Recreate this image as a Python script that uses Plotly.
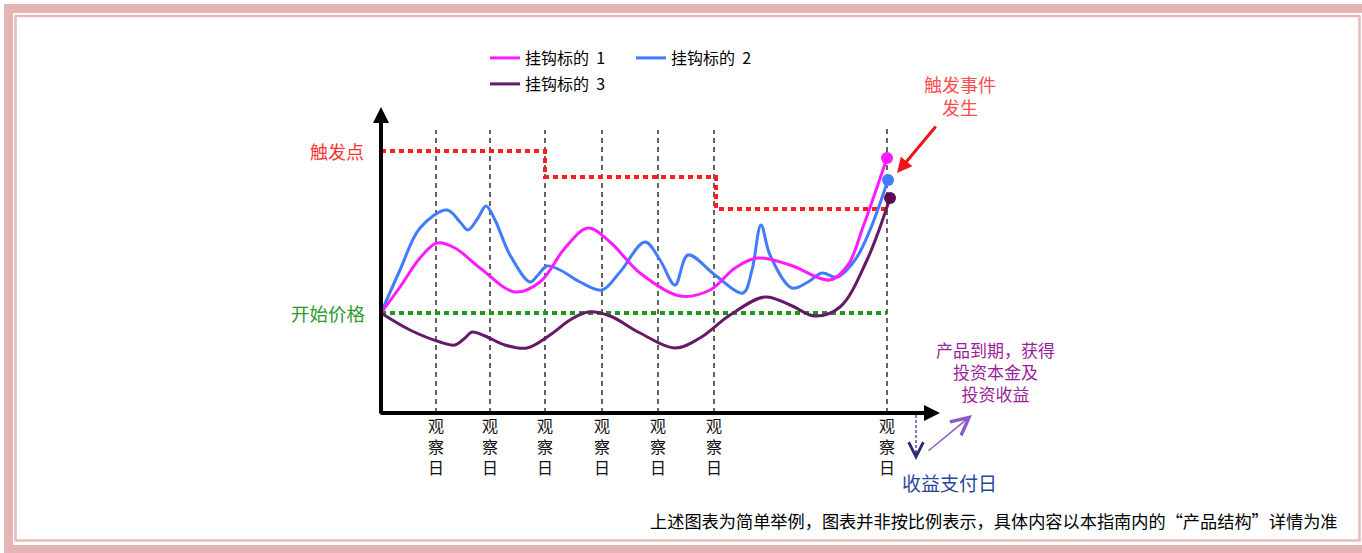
import plotly.graph_objects as go

# ---------------- data (schematic units: time offset, value relative to start price) -------------
series_names = ["挂钩标的  1", "挂钩标的  2", "挂钩标的  3"]
series_colors = ["#ff1aff", "#3f7cff", "#641a66"]
dot_colors = ["#ff1aff", "#3f7cff", "#5a0c4e"]

s1_x = [0, 19, 39, 56, 74, 99, 134, 159, 184, 207, 229, 259, 299, 329, 354, 376, 409, 449, 467, 482, 506]
s1_y = [0, 26, 55, 70, 65, 45, 21, 31, 65, 85, 71, 40, 17, 23, 45, 55, 48, 33, 48, 86, 155]

s2_x = [0, 19, 39, 66, 79, 87, 97, 105, 114, 129, 149, 157, 166, 179, 199, 221, 239, 264, 279, 294, 307,
        334, 362, 371, 380, 389, 411, 427, 441, 456, 474, 489, 507]
s2_y = [0, 43, 85, 103, 91, 83, 95, 107, 93, 58, 31, 38, 47, 43, 31, 23, 41, 71, 53, 28, 58,
        38, 20, 43, 88, 58, 25, 31, 40, 36, 53, 83, 133]

s3_x = [0, 29, 59, 74, 84, 91, 104, 124, 146, 169, 189, 207, 229, 259, 294, 319, 349, 384, 409, 434, 459, 486, 509]
s3_y = [0, -17, -29, -32, -25, -19, -23, -32, -35, -22, -7, 1, -3, -20, -35, -25, -2, 16, 8, -3, 6, 53, 115]

obs_x = [55, 109, 164, 221, 277, 333, 506]
obs_top = [183, 183, 183, 183, 183, 183, 188]
obs_label = "观<br>察<br>日"

trigger_x = [0, 164, 164, 335, 335, 506]
trigger_y = [162, 162, 136, 136, 104, 104]
start_x = [0, 506]
start_y = [0, 0]

# ---------------- layout helpers ----------------
FONT = "Noto Sans CJK SC, Noto Sans, sans-serif"
W, H = 1362, 553
OX, OY = 381, 313


def px(x):
    return x - OX


def py(y):
    return OY - y


fig = go.Figure()

# trigger level and start price
fig.add_trace(go.Scatter(x=trigger_x, y=trigger_y, mode="lines", showlegend=False, hoverinfo="skip",
                         line=dict(color="#ff1c1c", width=4, dash="5px,4px")))
fig.add_trace(go.Scatter(x=start_x, y=start_y, mode="lines", showlegend=False, hoverinfo="skip",
                         line=dict(color="#1c961c", width=4, dash="5px,4px")))

series = [(s1_x, s1_y), (s2_x, s2_y), (s3_x, s3_y)]
legends = ["legend", "legend", "legend2"]
for i in [2, 1, 0]:
    xs, ys = series[i]
    fig.add_trace(go.Scatter(x=xs, y=ys, mode="lines", name=series_names[i], legend=legends[i],
                             legendrank=i + 1,
                             line=dict(color=series_colors[i], width=3, shape="spline", smoothing=1.0)))
for i in [2, 1, 0]:
    xs, ys = series[i]
    fig.add_trace(go.Scatter(x=[xs[-1]], y=[ys[-1]], mode="markers", showlegend=False, hoverinfo="skip",
                             marker=dict(color=dot_colors[i], size=12)))

# observation day dashed lines
for x, top in zip(obs_x, obs_top):
    fig.add_shape(type="line", xref="x", yref="y", x0=x, x1=x, y0=py(413), y1=top, layer="below",
                  line=dict(color="#111111", width=1.3, dash="5px,4px"))
    fig.add_annotation(x=x, y=py(446), text=obs_label, showarrow=False, xanchor="center", yanchor="middle",
                       font=dict(size=16, family=FONT, color="#111111"))

# axes arrows
fig.add_annotation(x=0, y=py(107), ax=0, ay=py(415), axref="x", ayref="y", xref="x", yref="y", text="",
                   showarrow=True, arrowhead=2, arrowsize=0.8, arrowwidth=4, arrowcolor="#000000")
fig.add_annotation(x=px(940), y=py(413), ax=px(379), ay=py(413), axref="x", ayref="y", xref="x", yref="y",
                   text="", showarrow=True, arrowhead=2, arrowsize=0.8, arrowwidth=4, arrowcolor="#000000")

# red arrow to trigger event
fig.add_annotation(x=px(897), y=py(173), ax=px(937), ay=py(125), axref="x", ayref="y", xref="x", yref="y",
                   text="", showarrow=True, arrowhead=2, arrowsize=1, arrowwidth=3, arrowcolor="#f01414")
# purple arrow
fig.add_annotation(x=px(972), y=py(415), ax=px(927), ay=py(452), axref="x", ayref="y", xref="x", yref="y",
                   text="", showarrow=True, arrowhead=5, arrowsize=2.3, arrowwidth=1.5, arrowcolor="#8c5ac8")
# dashed navy arrow down
fig.add_shape(type="line", xref="x", yref="y", x0=px(916), x1=px(916), y0=py(415), y1=py(458),
              line=dict(color="#2b2b7a", width=1.2, dash="3px,2px"))
fig.add_annotation(x=px(916), y=py(460), ax=px(916), ay=py(450), axref="x", ayref="y", xref="x", yref="y",
                   text="", showarrow=True, arrowhead=5, arrowsize=2.4, arrowwidth=1.2, arrowcolor="#2b2b7a")

# texts
fig.add_annotation(x=px(366), y=py(151), text="触发点", showarrow=False, xanchor="right", yanchor="middle",
                   font=dict(size=18, family=FONT, color="#ff3333"))
fig.add_annotation(x=px(368), y=py(313), text="开始价格", showarrow=False, xanchor="right", yanchor="middle",
                   font=dict(size=18.5, family=FONT, color="#2d9a2d"))
fig.add_annotation(x=px(960), y=py(95), text="触发事件<br>发生", showarrow=False, xanchor="center",
                   yanchor="middle", font=dict(size=18, family=FONT, color="#ff4d4d"))
fig.add_annotation(x=px(995), y=py(371), text="产品到期，获得<br>投资本金及<br>投资收益", showarrow=False,
                   xanchor="center", yanchor="middle", font=dict(size=17, family=FONT, color="#9a1f9a"))
fig.add_annotation(x=px(949), y=py(482), text="收益支付日", showarrow=False, xanchor="center", yanchor="middle",
                   font=dict(size=19, family=FONT, color="#27479a"))
fig.add_annotation(x=px(1340), y=py(520), text="上述图表为简单举例，图表并非按比例表示，具体内容以本指南内的“产品结构”详情为准",
                   showarrow=False, xanchor="right", yanchor="middle",
                   font=dict(size=17.2, family=FONT, color="#000000"))

# frame
fig.add_shape(type="rect", xref="x", yref="y", x0=px(8.5), x1=px(1370), y0=py(8.5), y1=py(549.5),
              line=dict(color="#e4b5b5", width=9), fillcolor="rgba(0,0,0,0)")
fig.add_shape(type="rect", xref="x", yref="y", x0=px(15.5), x1=px(1359.5), y0=py(16), y1=py(540.5),
              line=dict(color="#e8baba", width=2.5), fillcolor="rgba(0,0,0,0)")

legend_common = dict(orientation="h", xanchor="left", yanchor="top", bgcolor="rgba(0,0,0,0)",
                     font=dict(size=16, family=FONT, color="#000000"), entrywidth=101,
                     entrywidthmode="pixels", itemwidth=30)
fig.update_layout(
    width=W, height=H, autosize=False,
    margin=dict(l=0, r=0, t=0, b=0, pad=0),
    paper_bgcolor="white", plot_bgcolor="white",
    xaxis=dict(range=[px(0), px(W)], visible=False, fixedrange=True),
    yaxis=dict(range=[py(H), py(0)], visible=False, fixedrange=True),
    legend=dict(x=485 / W, y=1 - 41 / H, **legend_common),
    legend2=dict(x=485 / W, y=1 - 67 / H, **legend_common),
    font=dict(family=FONT),
    hovermode=False,
)

fig.write_html("out.html", config={"displayModeBar": False},
               post_script="document.body.style.margin='0';document.body.style.overflow='hidden';")
